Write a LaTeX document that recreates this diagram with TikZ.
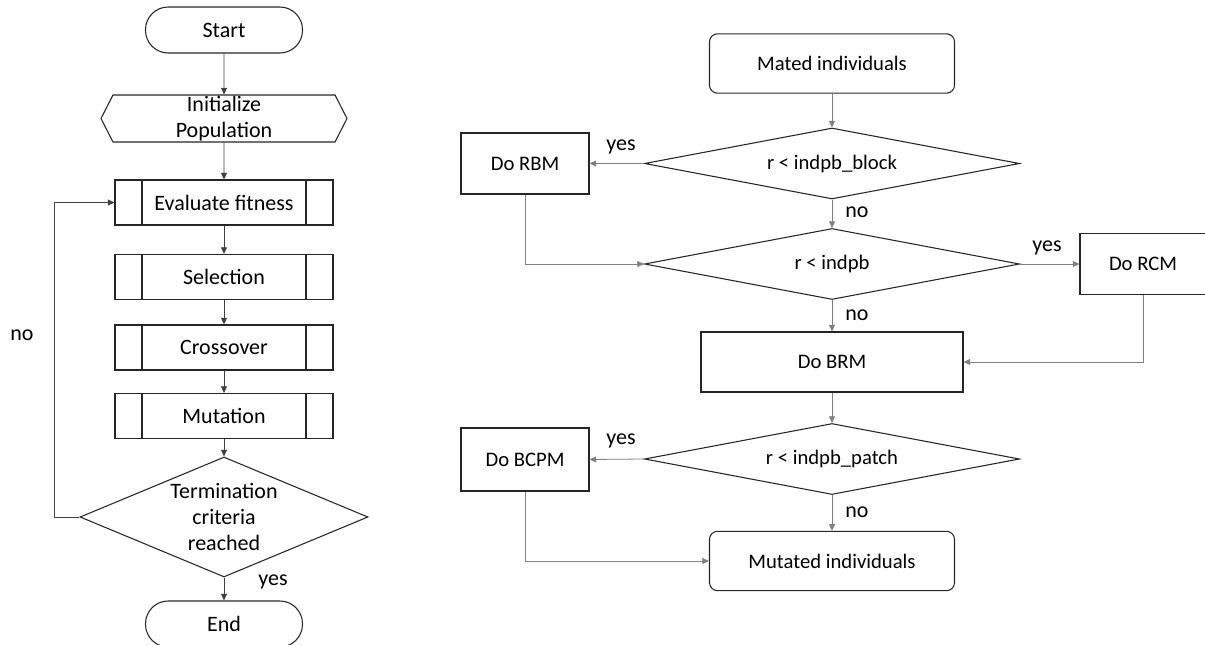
\documentclass[tikz,border=0pt]{standalone}
\usepackage{fontspec}
\setmainfont{Carlito}
\usetikzlibrary{arrows.meta,shapes.geometric,shapes.symbols}

\begin{document}
\begin{tikzpicture}[x=0.75pt, y=-0.75pt,
  base/.style={draw=black!85, line width=0.8pt, align=center,
               font=\fontsize{16.5}{19.5}\selectfont},
  startend/.style={base, rounded corners=17pt, minimum width=117.75pt,
                   minimum height=34.5pt},
  prep/.style={base, signal, signal to=west and east, signal pointer angle=126,
               minimum width=184.5pt, minimum height=35.25pt, inner sep=0pt},
  subproc/.style={base, minimum width=163.5pt, minimum height=33.75pt,
    path picture={
      \draw[line width=0.8pt, black!85]
        ([xshift=20.25pt]path picture bounding box.north west) --
        ([xshift=20.25pt]path picture bounding box.south west)
        ([xshift=-20.25pt]path picture bounding box.north east) --
        ([xshift=-20.25pt]path picture bounding box.south east);}},
  check/.style={base, diamond, aspect=2.4, minimum width=216pt,
                minimum height=90pt, inner sep=0pt},
  rbox/.style={base, font=\fontsize{15.5}{18}\selectfont, minimum height=45.75pt},
  rterm/.style={rbox, rounded corners=6pt, minimum width=183.75pt, minimum height=44.5pt},
  rcheck/.style={base, font=\fontsize{15.5}{18}\selectfont, diamond, aspect=5,
                 minimum width=281.25pt, minimum height=53.25pt, inner sep=0pt},
  lbl/.style={font=\fontsize{16.5}{19.5}\selectfont, inner sep=0pt},
  flow/.style={->, line width=0.6pt, black!75},
  rflow/.style={->, line width=0.6pt, black!50},
  >={Triangle[length=5pt,width=4.5pt]}
]
  \useasboundingbox (0,0) rectangle (1205,645);

  % genetic algorithm
  \node[startend] (start) at (224,30) {Start};
  \node[prep] (init) at (224,118.5) {Initialize\\Population};
  \node[subproc] (eval) at (224,202.5) {Evaluate fitness};
  \node[subproc] (sel) at (224,277) {Selection};
  \node[subproc] (cross) at (224,347.5) {Crossover};
  \node[subproc] (mut) at (224,416) {Mutation};
  \node[check, label={[lbl, align=center]center:Termination\\criteria\\reached}]
    (stop) at (224,517) {};
  \node[startend] (end) at (224,624) {End};
  \coordinate (loop) at (54,517);

  \draw[flow] (start) -- (init);
  \draw[flow] (init) -- (eval);
  \draw[flow] (eval) -- (sel);
  \draw[flow] (sel) -- (cross);
  \draw[flow] (cross) -- (mut);
  \draw[flow] (mut) -- (stop);
  \draw[flow] (stop) -- (end);
  \draw[flow] (stop.west) -- (loop) |- (eval.west);

  \node[lbl] (noloop) at (22,335) {no};
  \node[lbl] (yesend) at (273,582) {yes};

  % mutation operators
  \node[rterm] (mated) at (832,63.5) {Mated individuals};
  \node[rcheck] (block) at (832,163.5) {r < indpb\_block};
  \node[rbox, minimum width=96pt] (rbm) at (525,163.5) {Do RBM};
  \node[rcheck] (ind) at (832,264) {r < indpb};
  \node[rbox, minimum width=94.5pt] (rcm) at (1143,264) {Do RCM};
  \node[rbox, minimum width=196.5pt, minimum height=45pt] (brm) at (832,362) {Do BRM};
  \node[rcheck] (patch) at (832,459) {r < indpb\_patch};
  \node[rbox, minimum width=96pt, minimum height=47.25pt] (bcpm) at (525,459.5) {Do BCPM};
  \node[rterm] (mutated) at (832,561) {Mutated individuals};

  \draw[rflow] (mated) -- (block);
  \draw[rflow] (block.west) -- (rbm.east);
  \draw[rflow] (block) -- (ind);
  \draw[rflow] (rbm.south) |- (ind.west);
  \draw[rflow] (ind.east) -- (rcm.west);
  \draw[rflow] (ind) -- (brm);
  \draw[rflow] (rcm.south) |- (brm.east);
  \draw[rflow] (brm) -- (patch);
  \draw[rflow] (patch.west) -- (bcpm.east);
  \draw[rflow] (patch) -- (mutated);
  \draw[rflow] (bcpm.south) |- (mutated.west);

  \node[lbl] (yes1) at (621,147) {yes};
  \node[lbl] (no1) at (857,212) {no};
  \node[lbl] (yes2) at (1047,248) {yes};
  \node[lbl] (no2) at (857,315) {no};
  \node[lbl] (yes3) at (621,441) {yes};
  \node[lbl] (no3) at (857,512) {no};
\end{tikzpicture}
\end{document}
